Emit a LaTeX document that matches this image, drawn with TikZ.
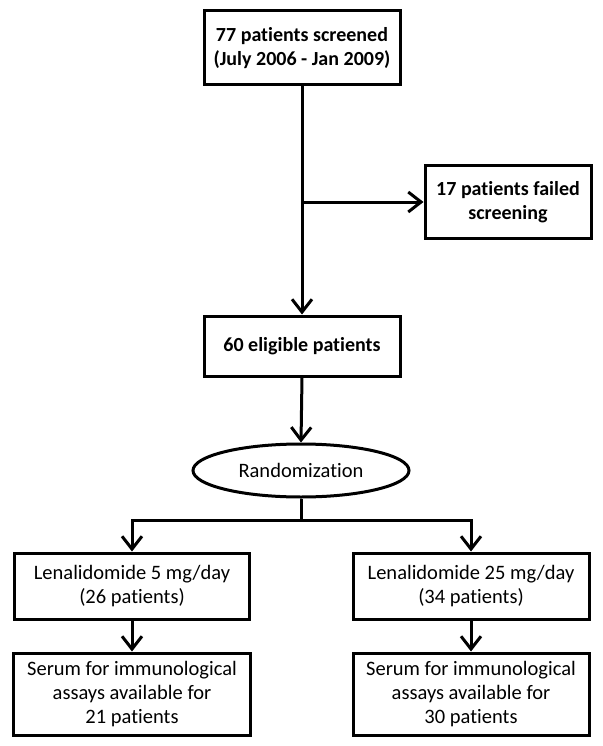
\documentclass[tikz,border=0pt]{standalone}
\usepackage{fontspec}
\setmainfont{Carlito}[Ligatures=NoCommon]
\usepackage{tikz}
\usetikzlibrary{arrows.meta, shapes, shapes.geometric, calc}
\tikzset{flowbox/.style = {draw, line width=3pt, rectangle, align=center, inner sep=0pt}}
\tikzset{flowoval/.style = {draw, line width=3pt, ellipse, inner sep=0pt}}
\tikzset{boldtext/.style = {font=\bfseries\fontsize{20}{24}\selectfont}}
\newcommand{\flowArrow}{{Straight Barb[length=4.5mm, width=7mm, line width=3pt]}}

\begin{document}
\begin{tikzpicture}[x=1pt, y=-1pt, font=\fontsize{20.5}{24}\selectfont]
	\useasboundingbox (0,0) rectangle (602,746);
	\def\Cx{302}
	\def\Split{520}
	
	\node[flowbox, boldtext, minimum width=196, minimum height=74] (screen) at (\Cx,48) {77 patients screened\\(July 2006 - Jan 2009)};
	\node[flowbox, boldtext, minimum width=166, minimum height=72] (failed) at (508,202) {17 patients failed\\screening};
	\node[flowbox, boldtext, minimum width=196, minimum height=60] (eligible) at (\Cx,346) {60 eligible patients};
	\node[flowoval, minimum width=216, minimum height=53] (random) at (301,470.5) {Randomization};
	
	\node[flowbox, minimum width=235, minimum height=66] (low) at (132,586) {Lenalidomide 5 mg/day\\(26 patients)};
	\node[flowbox, minimum width=236, minimum height=66] (high) at (471,586) {Lenalidomide 25 mg/day\\(34 patients)};
	\node[flowbox, minimum width=237, minimum height=82] (lowserum) at (132,694) {Serum for immunological\\assays available for\\21 patients};
	\node[flowbox, minimum width=236, minimum height=82] (highserum) at (471,694) {Serum for immunological\\assays available for\\30 patients};
	
	\coordinate (branch) at (screen.south |- failed.west);
	\coordinate (split) at (random.south |- 0,\Split);
	
	\draw[line width=3pt, -\flowArrow]	(screen.south) -- (eligible.north);
	\draw[line width=3pt, -\flowArrow]	(branch) -- (failed.west);
	\draw[line width=3pt, -\flowArrow]	(eligible.south) -- (random.north);
	
	\draw[line width=3pt]	(random.south) -- (split);
	\draw[line width=3pt, -\flowArrow]	(split) -| (low.north);
	\draw[line width=3pt, -\flowArrow]	(split) -| (high.north);
	
	\draw[line width=3pt, -\flowArrow]	(low.south) -- (lowserum.north);
	\draw[line width=3pt, -\flowArrow]	(high.south) -- (highserum.north);
\end{tikzpicture}
\end{document}
